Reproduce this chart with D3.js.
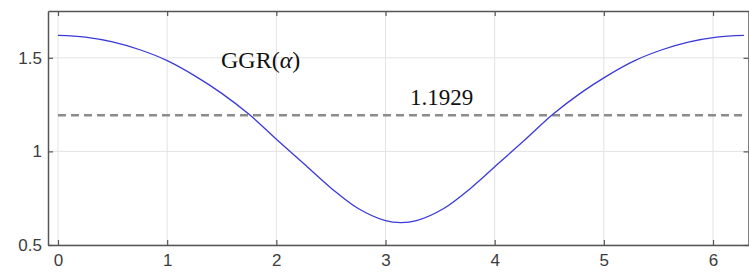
<!DOCTYPE html>
<html>
<head>
<meta charset="utf-8">
<script src="https://cdn.jsdelivr.net/npm/d3@7"></script>
<style>
  html, body { margin: 0; padding: 0; background: #ffffff; }
  #chart svg { display: block; }
</style>
</head>
<body>
<div id="chart"></div>
<script>
// alpha values (rad) and GGR(alpha)
const alphaValues = [0, 0.25, 0.5, 0.75, 1, 1.25, 1.5, 1.75, 2, 2.25, 2.5, 2.75, 3, 3.1416,
    3.2832, 3.5332, 3.7832, 4.0332, 4.2832, 4.5332, 4.7832, 5.0332, 5.2832, 5.5332, 5.7832, 6.0332, 6.2832];
const ggrValues = [1.620, 1.611, 1.585, 1.543, 1.485, 1.405, 1.310, 1.198, 1.065, 0.935, 0.805, 0.695, 0.630, 0.620,
    0.630, 0.695, 0.805, 0.935, 1.065, 1.198, 1.310, 1.405, 1.485, 1.543, 1.585, 1.611, 1.620];
const refLevel = 1.1929;
const refRange = [0, 6.2832];
const xTicks = [0, 1, 2, 3, 4, 5, 6];
const yTicks = [0.5, 1, 1.5];

const width = 749;
const height = 275;
const plot = { left: 48, right: 748.5, top: 11, bottom: 245 };

const svg = d3.select("#chart")
    .append("svg")
    .attr("width", width)
    .attr("height", height);

const x = d3.scaleLinear()
    .domain([-0.0916, 6.325])
    .range([plot.left, plot.right]);

const y = d3.scaleLinear()
    .domain([0.5, 1.75])
    .range([plot.bottom, plot.top]);

// grid
svg.append("g")
    .selectAll("line")
    .data(xTicks)
    .enter()
    .append("line")
    .attr("x1", d => x(d))
    .attr("x2", d => x(d))
    .attr("y1", plot.top)
    .attr("y2", plot.bottom)
    .attr("stroke", "#e3e3e3");

svg.append("g")
    .selectAll("line")
    .data(yTicks)
    .enter()
    .append("line")
    .attr("x1", plot.left)
    .attr("x2", plot.right)
    .attr("y1", d => y(d))
    .attr("y2", d => y(d))
    .attr("stroke", "#e3e3e3");

// axes (ticks point inward)
const axisColor = "#555555";
function styleAxis(g, showLabels) {
    g.selectAll(".domain").attr("stroke", axisColor).attr("stroke-width", 1.5);
    g.selectAll(".tick line").attr("stroke", axisColor).attr("stroke-width", 1.2);
    g.selectAll(".tick text")
        .attr("fill", "#3c3c3c")
        .attr("font-family", "'Liberation Sans', Arial, sans-serif")
        .attr("font-size", "17px")
        .attr("display", showLabels ? null : "none");
}

svg.append("g")
    .attr("transform", `translate(0,${plot.bottom})`)
    .call(d3.axisBottom(x).tickValues(xTicks).tickFormat(d3.format("d"))
        .tickSizeInner(-5).tickSizeOuter(0).tickPadding(9))
    .call(g => styleAxis(g, true));

svg.append("g")
    .attr("transform", `translate(0,${plot.top})`)
    .call(d3.axisTop(x).tickValues(xTicks).tickSizeInner(-5).tickSizeOuter(0))
    .call(g => styleAxis(g, false));

svg.append("g")
    .attr("transform", `translate(${plot.left},0)`)
    .call(d3.axisLeft(y).tickValues(yTicks).tickFormat(d => d)
        .tickSizeInner(-5).tickSizeOuter(0).tickPadding(6))
    .call(g => styleAxis(g, true));

svg.append("g")
    .attr("transform", `translate(${plot.right},0)`)
    .call(d3.axisRight(y).tickValues(yTicks).tickSizeInner(-5).tickSizeOuter(0))
    .call(g => styleAxis(g, false));

// reference dashed level
svg.append("line")
    .attr("x1", x(refRange[0]))
    .attr("x2", x(refRange[1]))
    .attr("y1", y(refLevel))
    .attr("y2", y(refLevel))
    .attr("stroke", "#8c8c8c")
    .attr("stroke-width", 2.5)
    .attr("stroke-dasharray", "8,5");

// GGR curve
const line = d3.line()
    .x((d, i) => x(alphaValues[i]))
    .y(d => y(d))
    .curve(d3.curveCatmullRom.alpha(0.5));

svg.append("path")
    .datum(ggrValues)
    .attr("fill", "none")
    .attr("stroke", "#3a3ad8")
    .attr("stroke-width", 1.3)
    .attr("d", line);

// labels
const label = svg.append("text")
    .attr("x", 221)
    .attr("y", 68)
    .attr("font-family", "'Liberation Serif', 'Times New Roman', serif")
    .attr("font-size", "24px")
    .attr("fill", "#111111");
label.append("tspan").text("GGR(");
label.append("tspan").attr("font-style", "italic").text("α");
label.append("tspan").text(")");

svg.append("text")
    .attr("x", 410)
    .attr("y", 105)
    .attr("font-family", "'Liberation Serif', 'Times New Roman', serif")
    .attr("font-size", "23px")
    .attr("fill", "#111111")
    .text(d3.format(".4f")(refLevel));
</script>
</body>
</html>
